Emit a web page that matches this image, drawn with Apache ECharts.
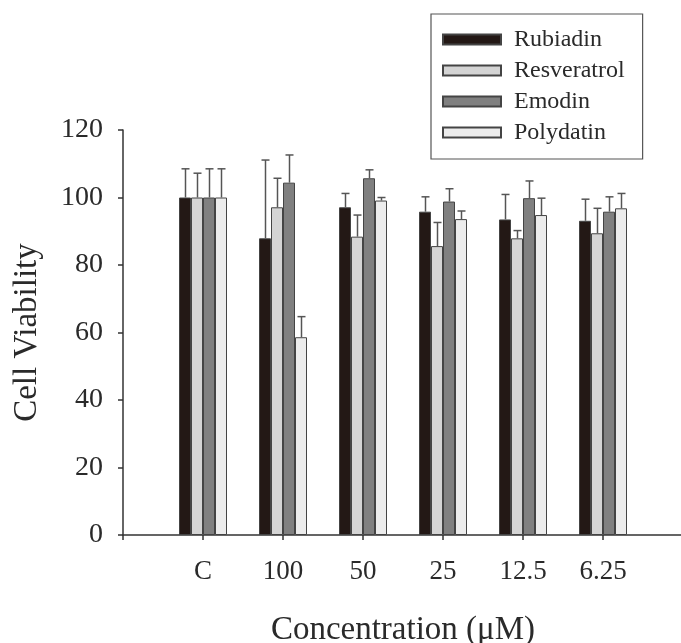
<!DOCTYPE html>
<html>
<head>
  <meta charset="utf-8" />
  <title>Cell Viability</title>
  <script src="https://cdn.jsdelivr.net/npm/echarts@6/dist/echarts.min.js"></script>
</head>
<body style="margin:0;background:#fff">
  <div id="main" style="width:681px;height:643px;"></div>
  <script type="text/javascript">
    // concentrations (first one is the control)
    var categories = ['C', '100', '50', '25', '12.5', '6.25'];
    var names = ['Rubiadin', 'Resveratrol', 'Emodin', 'Polydatin'];
    var colors = ['#231815', '#d4d4d4', '#808080', '#ececec'];

    // mean values
    var rubiadin = [100, 87.9, 97.1, 95.8, 93.5, 93.1];
    var resveratrol = [100, 97.1, 88.4, 85.6, 87.9, 89.4];
    var emodin = [100, 104.4, 105.7, 98.8, 99.8, 95.8];
    var polydatin = [100, 58.6, 99.1, 93.6, 94.8, 96.8];

    // upper error bars
    var rubiadinErr = [8.5, 23.2, 4.1, 4.4, 7.4, 6.4];
    var resveratrolErr = [7.2, 8.6, 6.4, 7.0, 2.3, 7.4];
    var emodinErr = [8.5, 8.2, 2.5, 3.8, 5.1, 4.4];
    var polydatinErr = [8.5, 6.1, 0.9, 2.4, 5.0, 4.4];

    var yTicks = [0, 20, 40, 60, 80, 100, 120];

    var means = [rubiadin, resveratrol, emodin, polydatin];
    var errs = [rubiadinErr, resveratrolErr, emodinErr, polydatinErr];

    var myChart = echarts.init(document.getElementById('main'));

    // blank slot before and after so the first group sits one step from the y axis
    var xData = [''].concat(categories, ['']);
    var barW = 12;
    var font = '"Liberation Serif", "DejaVu Serif", serif';
    var ink = '#2a2a2a';

    var series = [];
    names.forEach(function (name, k) {
      series.push({
        name: name,
        type: 'bar',
        barWidth: barW,
        barGap: '0%',
        data: [null].concat(means[k], [null]),
        itemStyle: { color: colors[k], borderColor: '#444', borderWidth: 1 },
        z: 2
      });
    });

    names.forEach(function (name, k) {
      var offset = (k - 1.5) * barW;
      var data = categories.map(function (c, i) {
        return [i + 1, means[k][i], errs[k][i]];
      });
      series.push({
        type: 'custom',
        data: data,
        z: 3,
        silent: true,
        renderItem: function (params, api) {
          var x = api.value(0);
          var low = api.coord([x, api.value(1)]);
          var high = api.coord([x, api.value(1) + api.value(2)]);
          var cx = Math.round(low[0] + offset) + 0.5;
          var style = { stroke: '#555', lineWidth: 1.5 };
          return {
            type: 'group',
            children: [
              { type: 'line', shape: { x1: cx, y1: low[1], x2: cx, y2: high[1] }, style: style },
              { type: 'line', shape: { x1: cx - 4, y1: high[1], x2: cx + 4, y2: high[1] }, style: style }
            ]
          };
        }
      });
    });

    var option = {
      animation: false,
      grid: { left: 123, right: -2, top: 130, bottom: 108, outerBoundsMode: 'none' },
      legend: {
        data: names,
        orient: 'vertical',
        left: 431,
        top: 14,
        icon: 'rect',
        itemWidth: 58,
        itemHeight: 10,
        itemGap: 6,
        padding: [13, 18, 14, 11],
        borderColor: '#555',
        borderWidth: 1.2,
        backgroundColor: '#fff',
        textStyle: {
          fontFamily: font, fontSize: 24, color: ink,
          lineHeight: 25, padding: [0, 0, 0, 8]
        }
      },
      xAxis: {
        type: 'category',
        data: xData,
        boundaryGap: false,
        name: 'Concentration (\u03bcM)',
        nameLocation: 'middle',
        nameGap: 79,
        nameTextStyle: { fontFamily: font, fontSize: 33, color: ink },
        axisLine: { lineStyle: { color: '#333', width: 1.5 } },
        axisTick: { length: 5, lineStyle: { color: '#333', width: 1.5 } },
        axisLabel: { fontFamily: font, fontSize: 27, color: ink, margin: 23 },
        splitLine: { show: false }
      },
      yAxis: {
        type: 'value',
        min: yTicks[0],
        max: yTicks[yTicks.length - 1],
        interval: 20,
        name: 'Cell Viability',
        nameLocation: 'middle',
        nameGap: 79,
        nameTextStyle: { fontFamily: font, fontSize: 33, color: ink },
        axisLine: { show: true, lineStyle: { color: '#333', width: 1.5 } },
        axisTick: { show: true, length: 5, lineStyle: { color: '#333', width: 1.5 } },
        axisLabel: { fontFamily: font, fontSize: 28, color: ink, margin: 20 },
        splitLine: { show: false }
      },
      series: series
    };
    myChart.setOption(option);
  </script>
</body>
</html>
